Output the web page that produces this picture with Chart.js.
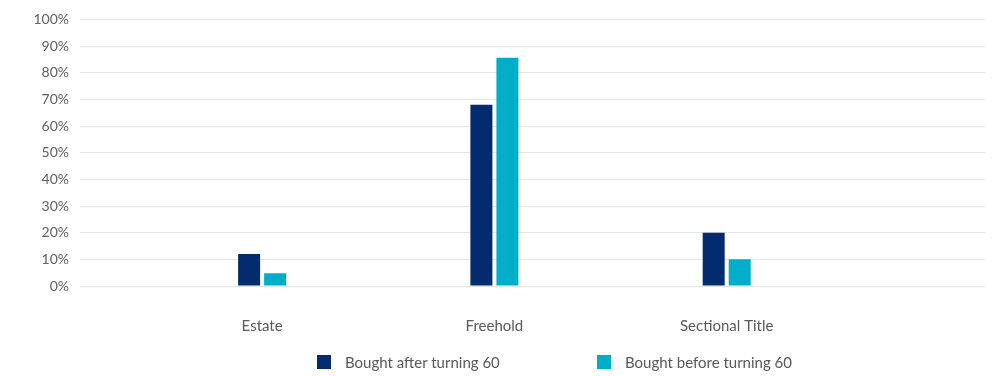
<!DOCTYPE html>
<html>
<head>
<meta charset="utf-8">
<script src="https://cdn.jsdelivr.net/npm/chart.js@4/dist/chart.umd.min.js"></script>
<style>
  html, body { margin: 0; padding: 0; background: #ffffff; }
  #wrap { position: relative; width: 1000px; height: 376px; }
  #legend { position: absolute; left: 0; top: 354px; width: 1000px; height: 18px;
    font-family: Lato, "Open Sans", sans-serif; font-size: 15px; color: #595959; }
  .item { position: absolute; top: 0; height: 16px; line-height: 16px; white-space: nowrap; }
  .box { position: absolute; left: 0; top: 1px; width: 14px; height: 14px; }
  .txt { position: absolute; left: 28px; top: 0; }
</style>
</head>
<body>
<div id="wrap">
  <canvas id="c" width="1000" height="376"></canvas>
  <div id="legend"></div>
</div>
<script>
const categories = ['Estate', 'Freehold', 'Sectional Title'];
const boughtAfter60 = [12, 68, 20];
const boughtBefore60 = [4.8, 85.6, 10];
const seriesNames = ['Bought after turning 60', 'Bought before turning 60'];
const seriesColors = ['#032b6e', '#00aeca'];
const yTicks = [0, 10, 20, 30, 40, 50, 60, 70, 80, 90, 100];

const FONT = 'Lato, "Open Sans", sans-serif';
const toPoints = arr => arr.map((v, i) => ({ x: i + 1, y: v }));

const chart = new Chart(document.getElementById('c'), {
  type: 'bar',
  data: {
    datasets: [
      { label: seriesNames[0], data: toPoints(boughtAfter60), backgroundColor: seriesColors[0],
        categoryPercentage: 0.224, barPercentage: 0.846 },
      { label: seriesNames[1], data: toPoints(boughtBefore60), backgroundColor: seriesColors[1],
        categoryPercentage: 0.224, barPercentage: 0.846 }
    ]
  },
  options: {
    responsive: false,
    animation: false,
    layout: { padding: { left: 0, right: 15, top: 10, bottom: 40 } },
    plugins: { legend: { display: false }, tooltip: { enabled: false } },
    scales: {
      x: {
        type: 'linear',
        offset: false,
        min: 0.216,
        max: 4.112,
        grid: { display: false },
        border: { display: false },
        afterBuildTicks: s => { s.ticks = categories.map((c, i) => ({ value: i + 1 })); },
        afterFit: s => { s.height = 50; },
        ticks: {
          autoSkip: false,
          maxRotation: 0,
          padding: 23,
          color: '#595959',
          font: { family: FONT, size: 15 },
          callback: v => categories[Math.round(v) - 1] || ''
        }
      },
      y: {
        min: 0,
        max: 100,
        afterFit: s => { s.width = 80; },
        afterBuildTicks: s => { s.ticks = yTicks.map(v => ({ value: v })); },
        grid: { color: '#e4e4e4', drawTicks: false, lineWidth: 1 },
        border: { display: false },
        ticks: {
          padding: 11,
          color: '#5f5f5f',
          font: { family: FONT, size: 14 },
          callback: v => v + '%'
        }
      }
    }
  }
});

const legendPos = [317, 597];
const legend = document.getElementById('legend');
chart.data.datasets.forEach((ds, i) => {
  const it = document.createElement('div');
  it.className = 'item';
  it.style.left = legendPos[i] + 'px';
  it.innerHTML = '<span class="box" style="background:' + ds.backgroundColor + '"></span><span class="txt"></span>';
  it.querySelector('.txt').textContent = ds.label;
  legend.appendChild(it);
});
</script>
</body>
</html>
